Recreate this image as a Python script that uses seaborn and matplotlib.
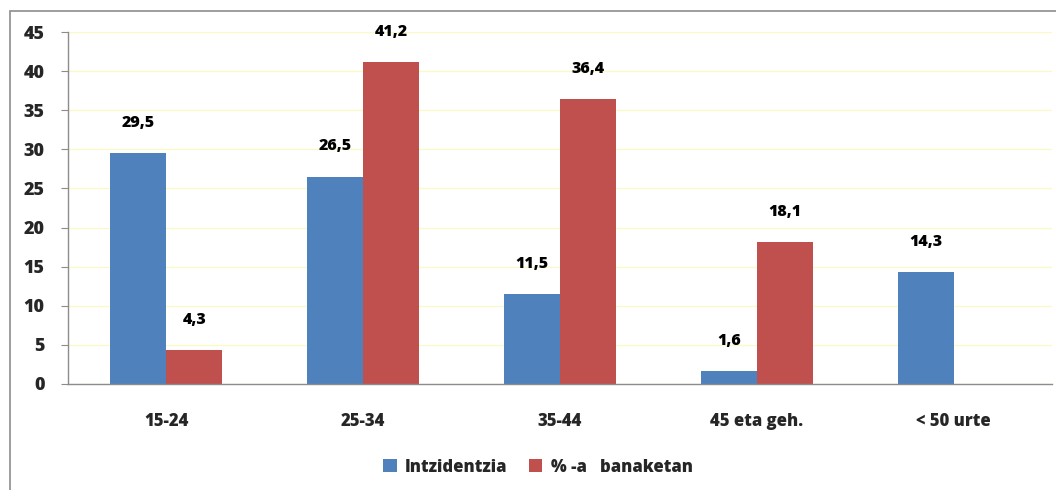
import matplotlib
matplotlib.use("Agg")
import matplotlib.pyplot as plt
from matplotlib.patches import Rectangle, Patch
import seaborn as sns
import pandas as pd
import numpy as np

categories = ["15-24", "25-34", "35-44", "45 eta geh.", "< 50 urte"]
intzidentzia = [29.5, 26.5, 11.5, 1.6, 14.3]
banaketan = [4.3, 41.2, 36.4, 18.1, np.nan]
series_names = ["Intzidentzia", "% -a   banaketan"]
colors = ["#4F81BD", "#C0504D"]
yticks = [0, 5, 10, 15, 20, 25, 30, 35, 40, 45]

sns.set_style("white")
plt.rcParams["font.family"] = ["Open Sans", "DejaVu Sans"]
plt.rcParams["font.weight"] = "bold"

df = pd.DataFrame({
    "cat": categories * 2,
    "val": intzidentzia + banaketan,
    "ser": [series_names[0]] * 5 + [series_names[1]] * 5,
})

W, H = 1056, 490
fig = plt.figure(figsize=(W / 100, H / 100), dpi=100)
ax = fig.add_axes([68 / W, 1 - 384 / H, (1052 - 68) / W, (384 - 32) / H])

sns.barplot(data=df, x="cat", y="val", hue="ser", order=categories,
            hue_order=series_names, palette=colors, width=0.57,
            saturation=1, ax=ax, legend=False, errorbar=None, linewidth=0)

for cont in ax.containers:
    ax.bar_label(cont, fmt=lambda v: f"{v:.1f}".replace(".", ","),
                 padding=16, fontsize=11.5, fontweight="heavy", color="black")

ax.set_xlim(-0.5, len(categories) - 0.5)
ax.set_ylim(0, 45)
ax.set_yticks(yticks)
ax.set_yticklabels([str(t) for t in yticks], fontsize=13, fontweight="heavy")
ax.set_xticks(range(len(categories)))
ax.set_xticklabels(categories, fontsize=12, fontweight="heavy")
ax.set_xticks(np.arange(-0.5, len(categories)), minor=True)
ax.tick_params(axis="x", which="major", length=0, pad=21)
ax.tick_params(axis="x", which="minor", length=5, color="#8c8c8c", direction="out")
ax.tick_params(axis="y", length=5, color="#8c8c8c", direction="out", pad=12, left=True)
ax.set_xlabel("")
ax.set_ylabel("")

ax.yaxis.grid(True, color="#FAFAC8", linewidth=1)
ax.set_axisbelow(True)
for s in ["top", "right"]:
    ax.spines[s].set_visible(False)
for s in ["left", "bottom"]:
    ax.spines[s].set_color("#8c8c8c")
    ax.spines[s].set_linewidth(1)

# outer chart border
fig.patches.append(Rectangle((10 / W, -0.2), 1.2, 1.2 - 11 / H, transform=fig.transFigure,
                             fill=False, edgecolor="#8c8c8c", linewidth=1.2))

handles = [Patch(facecolor=c, edgecolor="none") for c in colors]
fig.legend(handles, series_names, loc="center", bbox_to_anchor=(538 / W, 1 - 467 / H),
           ncol=2, frameon=False, prop={"size": 12, "weight": "heavy"},
           handlelength=0.8, handleheight=0.8, handletextpad=0.5, columnspacing=1.3)

fig.savefig("out.png", dpi=100)
